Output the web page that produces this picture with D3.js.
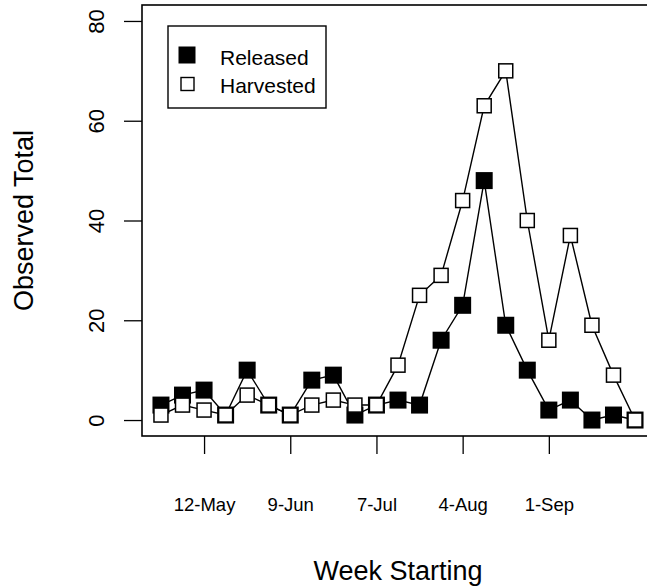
<!DOCTYPE html>
<html lang="en">
<head>
  <meta charset="UTF-8">
  <title>Observed Total by Week</title>
  <style>
    body { margin: 0; background: white; }
    text { font-family: "Liberation Sans", Arial, sans-serif; fill: black; }
  </style>
</head>
<body>
<div id="chart"></div>
<script src="https://d3js.org/d3.v7.min.js"></script>
<script>
  // week starting dates (one point per week)
  const weeks = ["2013-04-28", "2013-05-05", "2013-05-12", "2013-05-19", "2013-05-26",
    "2013-06-02", "2013-06-09", "2013-06-16", "2013-06-23", "2013-06-30",
    "2013-07-07", "2013-07-14", "2013-07-21", "2013-07-28", "2013-08-04",
    "2013-08-11", "2013-08-18", "2013-08-25", "2013-09-01", "2013-09-08",
    "2013-09-15", "2013-09-22", "2013-09-29"];
  const released  = [3, 5, 6, 1, 10, 3, 1, 8, 9, 1, 3, 4, 3, 16, 23, 48, 19, 10, 2, 4, 0, 1, 0];
  const harvested = [1, 3, 2, 1, 5, 3, 1, 3, 4, 3, 3, 11, 25, 29, 44, 63, 70, 40, 16, 37, 19, 9, 0];
  const xTickWeeks = ["2013-05-12", "2013-06-09", "2013-07-07", "2013-08-04", "2013-09-01"];
  const yTicks = [0, 20, 40, 60, 80];
  const seriesNames = ["Released", "Harvested"];

  const width = 647, height = 588;
  const margin = {left: 142, top: 5, right: 654, bottom: 436};
  const parse = d3.timeParse("%Y-%m-%d");
  const fmt = d3.timeFormat("%-d-%b");
  const dates = weeks.map(parse);

  const svg = d3.select("#chart").append("svg")
    .attr("width", width)
    .attr("height", height);

  // R style 4% padding on both axes
  const span = dates[dates.length - 1] - dates[0];
  const x = d3.scaleTime()
    .domain([new Date(+dates[0] - span * 0.04), new Date(+dates[dates.length - 1] + span * 0.04)])
    .range([margin.left, margin.right]);
  const y = d3.scaleLinear()
    .domain([-3.2, 83.2])
    .range([margin.bottom, margin.top]);

  // box
  svg.append("rect")
    .attr("x", margin.left)
    .attr("y", margin.top)
    .attr("width", margin.right - margin.left)
    .attr("height", margin.bottom - margin.top)
    .attr("fill", "none")
    .attr("stroke", "black")
    .attr("stroke-width", 1.6);

  // y axis
  const yAxis = svg.append("g")
    .attr("transform", `translate(${margin.left},0)`)
    .call(d3.axisLeft(y).tickValues(yTicks).tickSize(18).tickPadding(0).tickFormat(d3.format("d")));
  yAxis.select(".domain").remove();
  yAxis.selectAll("line").attr("stroke-width", 1.3);
  yAxis.selectAll("text")
    .attr("x", null).attr("dy", null).attr("y", 0)
    .attr("transform", "translate(-38,0) rotate(-90)")
    .attr("text-anchor", "middle")
    .style("font-size", "22px");

  // x axis
  const xAxis = svg.append("g")
    .attr("transform", `translate(0,${margin.bottom})`)
    .call(d3.axisBottom(x).tickValues(xTickWeeks.map(parse)).tickSize(18).tickPadding(0).tickFormat(fmt));
  xAxis.select(".domain").remove();
  xAxis.selectAll("line").attr("stroke-width", 1.3);
  xAxis.selectAll("text")
    .attr("y", 75)
    .attr("dy", null)
    .style("font-size", "18.5px");

  // axis titles
  svg.append("text")
    .attr("x", (margin.left + margin.right) / 2)
    .attr("y", 580)
    .attr("text-anchor", "middle")
    .style("font-size", "27px")
    .text("Week Starting");
  svg.append("text")
    .attr("transform", `translate(33,${(margin.top + margin.bottom) / 2}) rotate(-90)`)
    .attr("text-anchor", "middle")
    .style("font-size", "27px")
    .text("Observed Total");

  const line = d3.line().x((d, i) => x(dates[i])).y(d => y(d));

  svg.append("path").datum(released)
    .attr("d", line).attr("fill", "none").attr("stroke", "black").attr("stroke-width", 1.4);
  svg.append("path").datum(harvested)
    .attr("d", line).attr("fill", "none").attr("stroke", "black").attr("stroke-width", 1.4);

  const bs = 17, ws = 14;
  svg.selectAll(".rel").data(released).enter().append("rect")
    .attr("class", "rel")
    .attr("x", (d, i) => x(dates[i]) - bs / 2)
    .attr("y", d => y(d) - bs / 2)
    .attr("width", bs).attr("height", bs)
    .attr("fill", "black");
  svg.selectAll(".har").data(harvested).enter().append("rect")
    .attr("class", "har")
    .attr("x", (d, i) => x(dates[i]) - ws / 2)
    .attr("y", d => y(d) - ws / 2)
    .attr("width", ws).attr("height", ws)
    .attr("fill", "white")
    .attr("stroke", "black")
    .attr("stroke-width", 1.5);

  // legend
  const lg = svg.append("g");
  lg.append("rect")
    .attr("x", 168).attr("y", 26).attr("width", 158).attr("height", 82)
    .attr("fill", "white").attr("stroke", "black").attr("stroke-width", 1.4);
  lg.append("rect").attr("x", 187 - 8.5).attr("y", 55 - 8.5).attr("width", 17).attr("height", 17)
    .attr("fill", "black");
  lg.append("rect").attr("x", 187.5 - 6.5).attr("y", 84 - 6.5).attr("width", 13).attr("height", 13)
    .attr("fill", "white").attr("stroke", "black").attr("stroke-width", 1.4);
  lg.selectAll(".lt").data(seriesNames).enter().append("text")
    .attr("x", 220)
    .attr("y", (d, i) => 65 + i * 28)
    .style("font-size", "21px")
    .text(d => d);
</script>
</body>
</html>
